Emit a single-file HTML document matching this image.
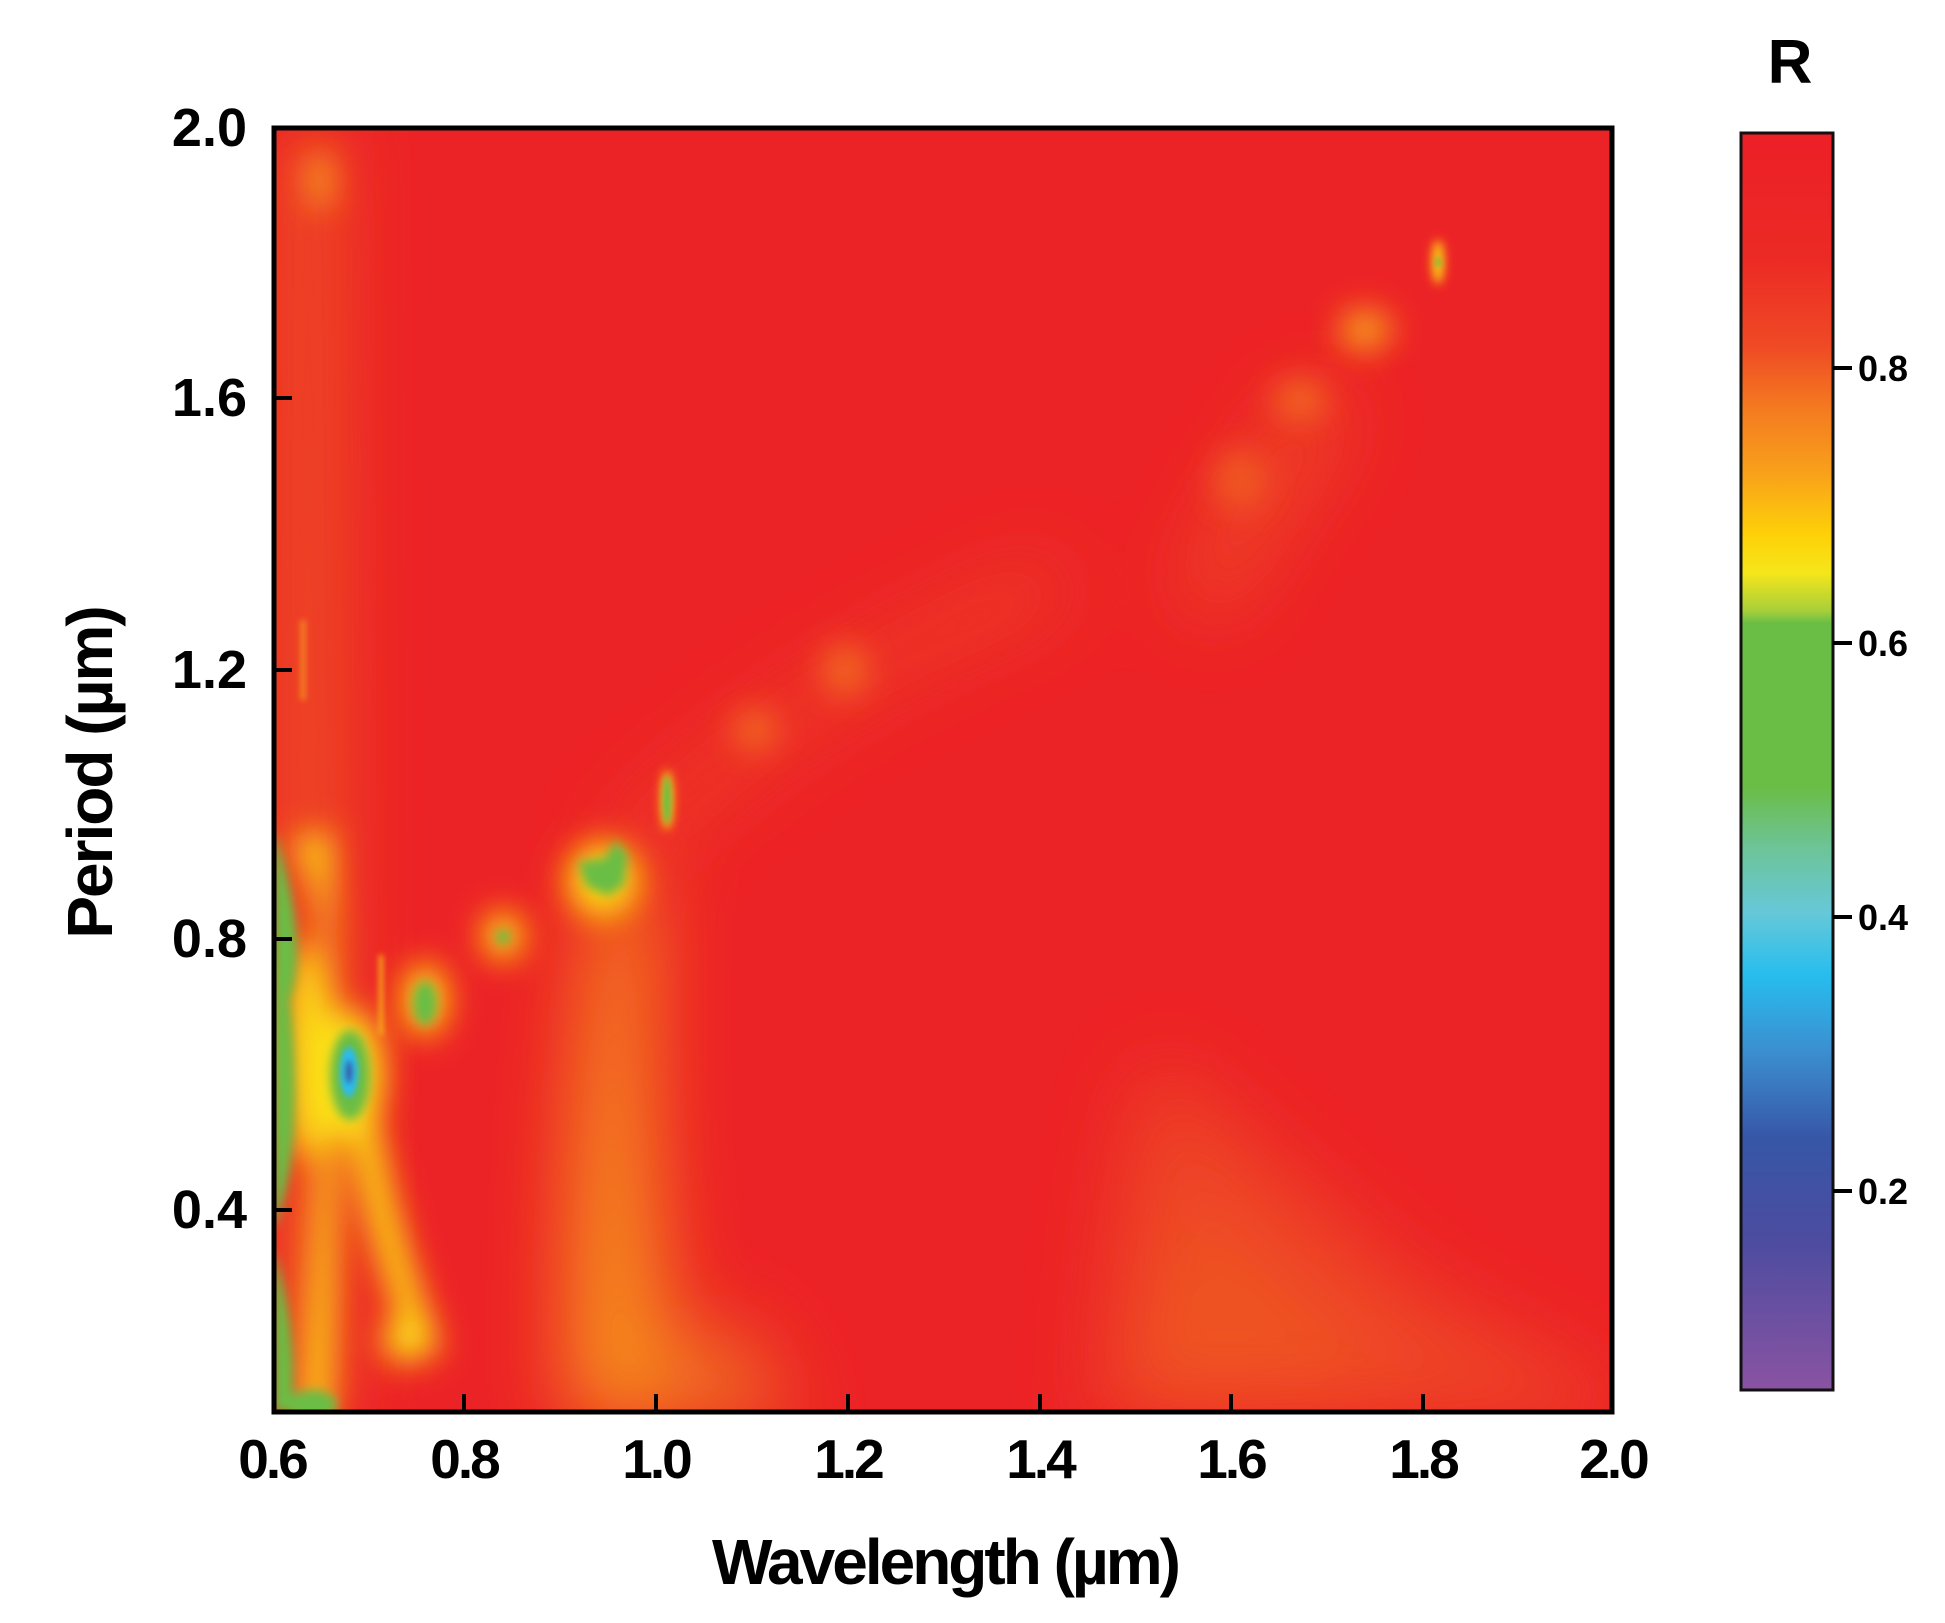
<!DOCTYPE html>
<html><head><meta charset="utf-8"><style>
html,body{margin:0;padding:0;background:#fff;width:1945px;height:1623px;overflow:hidden}
svg{display:block}
text{font-family:"Liberation Sans",Arial,sans-serif;font-weight:bold;fill:#000}
</style></head><body>
<svg width="1945" height="1623" viewBox="0 0 1945 1623" xmlns="http://www.w3.org/2000/svg">
<defs>
<clipPath id="pc"><rect x="274" y="128" width="1338" height="1284"/></clipPath>
<filter id="b40" x="-50%" y="-50%" width="200%" height="200%"><feGaussianBlur stdDeviation="40"/></filter>
<filter id="b20" x="-50%" y="-50%" width="200%" height="200%"><feGaussianBlur stdDeviation="16"/></filter>
<filter id="b5" x="-50%" y="-50%" width="200%" height="200%"><feGaussianBlur stdDeviation="5"/></filter>
<filter id="b3" x="-50%" y="-50%" width="200%" height="200%"><feGaussianBlur stdDeviation="3"/></filter>
<linearGradient id="cb" x1="0" y1="0" x2="0" y2="1">
<stop offset="0" stop-color="#ec1f26"/><stop offset="0.1" stop-color="#ec2a25"/>
<stop offset="0.17" stop-color="#ef4a25"/><stop offset="0.22" stop-color="#f47b20"/>
<stop offset="0.27" stop-color="#f8a01b"/><stop offset="0.32" stop-color="#fed108"/>
<stop offset="0.35" stop-color="#f5e61a"/><stop offset="0.38" stop-color="#a8cf3a"/>
<stop offset="0.39" stop-color="#6abd45"/><stop offset="0.52" stop-color="#6abd45"/>
<stop offset="0.57" stop-color="#6dc49a"/><stop offset="0.62" stop-color="#66c8d8"/>
<stop offset="0.67" stop-color="#27bdee"/><stop offset="0.73" stop-color="#3b8fd0"/>
<stop offset="0.80" stop-color="#3756a6"/><stop offset="0.88" stop-color="#4c4ca0"/>
<stop offset="1" stop-color="#8a53a2"/></linearGradient>
</defs>
<g clip-path="url(#pc)">
<rect x="270" y="120" width="1350" height="1300" fill="#ec2326"/>
<g filter="url(#b40)" opacity="0.9">
<path d="M1100 1420 Q1120 1100 1160 1060 Q1260 1150 1420 1290 Q1570 1370 1620 1400 L1620 1420 Z" fill="#ee4a25"/>
<path d="M1130 1400 L1190 1200 Q1260 1280 1400 1380 Z" fill="#f05a24"/>
<path d="M1180 600 Q1240 450 1320 380 L1350 420 Q1280 520 1220 620 Z" fill="#ef4e25"/>
<path d="M285 130 L330 130 L335 1420 L285 1420 Z" fill="#f06a23"/>
<path d="M570 1420 Q565 1150 600 900 L650 890 Q635 1150 680 1420 Z" fill="#f7a11b"/>
<path d="M660 1420 Q700 1300 740 1330 Q780 1400 800 1420 Z" fill="#f07a22"/>
<path d="M600 850 Q760 680 1050 560 L1070 600 Q800 700 640 870 Z" fill="#ef4525"/>
</g>
<g filter="url(#b20)">
<path d="M290 840 Q330 900 325 1000 Q320 1150 300 1420 L330 1420 Q340 1100 330 830 Z" fill="#fbd512"/>
<ellipse cx="305" cy="1050" rx="22" ry="110" fill="#fbd512"/>
<path d="M345 1110 Q370 1250 415 1360 L440 1350 Q395 1230 375 1110 Z" fill="#fce014"/>
<ellipse cx="405" cy="1340" rx="22" ry="22" fill="#fbe214"/>
<ellipse cx="603" cy="880" rx="36" ry="38" fill="#fcd80e"/>
<ellipse cx="350" cy="1075" rx="34" ry="65" fill="#fbe214"/>
<ellipse cx="425" cy="1000" rx="22" ry="36" fill="#fcd80e"/>
<ellipse cx="503" cy="936" rx="20" ry="24" fill="#fcd80e"/>
<ellipse cx="1365" cy="330" rx="26" ry="20" fill="#f7a11b"/>
<ellipse cx="1300" cy="400" rx="26" ry="20" fill="#f26a22"/>
<ellipse cx="1240" cy="480" rx="26" ry="30" fill="#f05a24"/>
<ellipse cx="845" cy="670" rx="22" ry="25" fill="#f26a22"/>
<ellipse cx="755" cy="730" rx="22" ry="20" fill="#f26a22"/>
<ellipse cx="320" cy="180" rx="12" ry="30" fill="#f7a11b"/>
</g>
<g filter="url(#b5)">
<path d="M274 830 Q310 940 290 1000 Q305 1150 274 1230 Z" fill="#6abd45"/>
<path d="M274 1250 Q298 1330 292 1412 L274 1412 Z" fill="#6abd45"/>
<ellipse cx="312" cy="1405" rx="25" ry="15" fill="#6abd45"/>
<ellipse cx="350" cy="1075" rx="20" ry="45" fill="#6abd45"/>
<ellipse cx="425" cy="1003" rx="12" ry="22" fill="#6abd45"/>
<ellipse cx="503" cy="937" rx="7" ry="7" fill="#6abd45"/>
<path d="M578 862 L605 858 L616 840 L628 855 L624 885 L608 896 L586 886 Z" fill="#6abd45"/>
<ellipse cx="667" cy="800" rx="6" ry="30" fill="#fbd512"/>
<ellipse cx="1438" cy="262" rx="6" ry="22" fill="#fbd512"/>
</g>
<g filter="url(#b3)">
<ellipse cx="349" cy="1072" rx="9" ry="25" fill="#29bcee"/>
<ellipse cx="349" cy="1072" rx="4" ry="12" fill="#3756a6"/>
<ellipse cx="667" cy="800" rx="4" ry="24" fill="#6abd45"/>
<ellipse cx="1438" cy="262" rx="2.5" ry="5" fill="#6abd45"/>
<rect x="379" y="955" width="4" height="80" fill="#f8b21a"/>
<rect x="300" y="620" width="6" height="80" fill="#f47b20"/>
</g>
</g>
<rect x="274" y="128" width="1338" height="1284" fill="none" stroke="#000" stroke-width="5"/>
<g stroke="#000" stroke-width="4">
<line x1="274" y1="398" x2="292" y2="398"/><line x1="274" y1="670" x2="292" y2="670"/>
<line x1="274" y1="939" x2="292" y2="939"/><line x1="274" y1="1210" x2="292" y2="1210"/>
<line x1="464" y1="1412" x2="464" y2="1394"/><line x1="656" y1="1412" x2="656" y2="1394"/>
<line x1="848" y1="1412" x2="848" y2="1394"/><line x1="1040" y1="1412" x2="1040" y2="1394"/>
<line x1="1231" y1="1412" x2="1231" y2="1394"/><line x1="1423" y1="1412" x2="1423" y2="1394"/>
</g>
<g font-size="54" text-anchor="end">
<text x="247" y="146">2.0</text>
<text x="247" y="416">1.6</text>
<text x="247" y="688">1.2</text>
<text x="247" y="957">0.8</text>
<text x="247" y="1228">0.4</text>
</g>
<g font-size="55" text-anchor="middle" style="letter-spacing:-3px">
<text x="272" y="1478">0.6</text><text x="464" y="1478">0.8</text>
<text x="656" y="1478">1.0</text><text x="848" y="1478">1.2</text>
<text x="1040" y="1478">1.4</text><text x="1231" y="1478">1.6</text>
<text x="1423" y="1478">1.8</text><text x="1613" y="1478">2.0</text>
</g>
<text x="945" y="1584" font-size="64" text-anchor="middle" style="letter-spacing:-3px">Wavelength (µm)</text>
<text transform="translate(112,773) rotate(-90)" font-size="64" text-anchor="middle" style="letter-spacing:-2px">Period (µm)</text>
<text x="1790" y="83" font-size="62" text-anchor="middle">R</text>
<rect x="1741" y="133" width="92" height="1257" fill="url(#cb)" stroke="#111" stroke-width="3"/>
<g stroke="#000" stroke-width="4">
<line x1="1833" y1="368" x2="1852" y2="368"/><line x1="1833" y1="643" x2="1852" y2="643"/>
<line x1="1833" y1="917" x2="1852" y2="917"/><line x1="1833" y1="1191" x2="1852" y2="1191"/>
</g>
<g font-size="36">
<text x="1858" y="381">0.8</text><text x="1858" y="656">0.6</text>
<text x="1858" y="930">0.4</text><text x="1858" y="1204">0.2</text>
</g>
</svg>
</body></html>
